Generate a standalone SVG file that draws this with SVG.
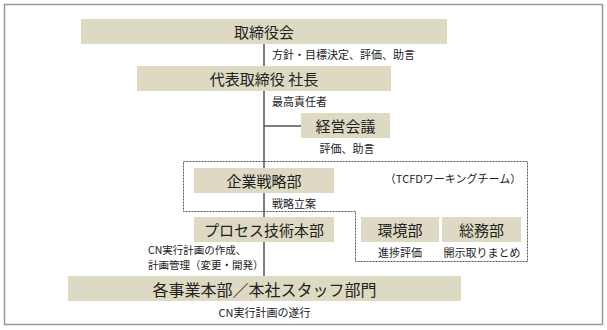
<svg xmlns="http://www.w3.org/2000/svg" width="607" height="330" viewBox="0 0 607 330">
<style>
.box{fill:#ddd9c3;}
.t{font-family:"Noto Sans CJK JP","Noto Sans",sans-serif;fill:#222;text-anchor:middle;dominant-baseline:central;}
.big{font-size:15px;}
.lbl{font-family:"Noto Sans CJK JP","Noto Sans",sans-serif;fill:#222;font-size:11px;dominant-baseline:central;}
.line{stroke:#555;stroke-width:1.5;fill:none;}
.dash{stroke:#555;stroke-width:1;fill:none;stroke-dasharray:2,1;}
</style>
<rect x="0" y="0" width="607" height="330" fill="#fff"/>
<rect x="4.5" y="4.5" width="598" height="320" fill="none" stroke="#999" stroke-width="1.5"/>
<g id="connectors">
<path class="line" d="M264,44 V276"/>
<path class="line" d="M264,126 H301"/>
</g>
<g id="tcfd-group">
<path class="dash" d="M183.5,161.5 H527.5 V261.5 H355.5 V211.5 H183.5 Z"/>
<text class="lbl" x="453" y="178" text-anchor="middle">（TCFDワーキングチーム）</text>
</g>
<g id="board">
<rect class="box" x="81" y="19" width="366" height="25"/>
<text class="t big" x="264" y="31">取締役会</text>
<text class="lbl" x="272" y="54">方針・目標決定、評価、助言</text>
</g>
<g id="president">
<rect class="box" x="137" y="66" width="254" height="25"/>
<text class="t big" x="264" y="78.5">代表取締役 社長</text>
<text class="lbl" x="272" y="101">最高責任者</text>
</g>
<g id="management">
<rect class="box" x="301" y="113" width="89" height="25"/>
<text class="t big" x="345.5" y="125.5">経営会議</text>
<text class="lbl" x="347" y="148" text-anchor="middle">評価、助言</text>
</g>
<g id="strategy">
<rect class="box" x="194" y="168" width="140" height="25"/>
<text class="t big" x="264" y="180.5">企業戦略部</text>
<text class="lbl" x="272" y="202.5">戦略立案</text>
</g>
<g id="process">
<rect class="box" x="194" y="217" width="140" height="25"/>
<text class="t big" x="264" y="229.5">プロセス技術本部</text>
<text class="lbl" x="148" y="249" style="font-size:10.5px">CN実行計画の作成、</text>
<text class="lbl" x="148" y="264" style="font-size:10.5px">計画管理（変更・開発）</text>
</g>
<g id="environment">
<rect class="box" x="361" y="217" width="78" height="25"/>
<text class="t big" x="400" y="229.5">環境部</text>
<text class="lbl" x="400" y="251.5" text-anchor="middle">進捗評価</text>
</g>
<g id="general-affairs">
<rect class="box" x="442" y="217" width="79" height="25"/>
<text class="t big" x="481.5" y="229.5">総務部</text>
<text class="lbl" x="482" y="251.5" text-anchor="middle">開示取りまとめ</text>
</g>
<g id="divisions">
<rect class="box" x="68" y="276" width="393" height="25"/>
<text class="t big" x="264.5" y="288.5" style="font-size:16px">各事業本部／本社スタッフ部門</text>
<text class="lbl" x="264.5" y="312" text-anchor="middle">CN実行計画の遂行</text>
</g>
</svg>
